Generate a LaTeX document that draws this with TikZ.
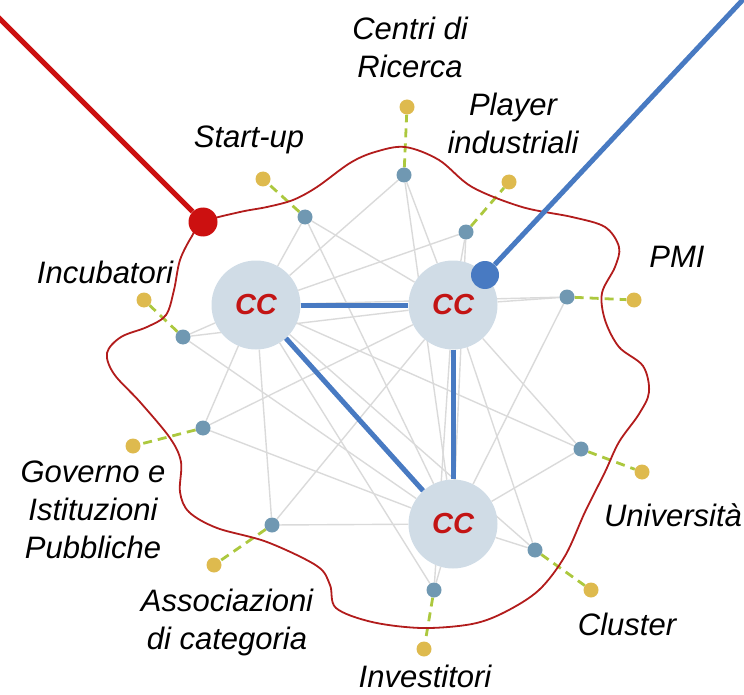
\documentclass[tikz,border=0pt]{standalone}
\usepackage{fontspec}
\setmainfont{Liberation Sans}
\usepackage{tikz}
\usetikzlibrary{backgrounds}
\definecolor{ccfill}{RGB}{208,220,230}
\definecolor{ccred}{RGB}{195,20,20}
\definecolor{actorblue}{RGB}{112,152,178}
\definecolor{extyellow}{RGB}{222,186,78}
\definecolor{tiegreen}{RGB}{172,200,62}
\definecolor{linkgray}{RGB}{218,218,218}
\definecolor{hubblue}{RGB}{72,122,194}
\definecolor{borderred}{RGB}{178,28,28}
\definecolor{entryred}{RGB}{204,16,16}

\begin{document}
\begin{tikzpicture}[x=1pt,y=-1pt,
    hubnode/.style={circle,fill=ccfill,minimum size=89pt,inner sep=0pt,text=ccred,font=\fontsize{29}{29}\selectfont\bfseries\itshape},
    actornode/.style={circle,fill=actorblue,minimum size=15pt,inner sep=0pt},
    extnode/.style={circle,fill=extyellow,minimum size=15pt,inner sep=0pt},
    linkline/.style={linkgray,line width=1.4pt},
    tieline/.style={tiegreen,line width=2.8pt,dash pattern=on 9pt off 6pt},
    hubline/.style={hubblue,line width=5pt},
    labeltext/.style={font=\fontsize{31}{38}\selectfont\itshape,align=center,inner sep=0pt}]
  \useasboundingbox (0,0) rectangle (744,695);
  % Centri di competenza
  \node[hubnode] (cc1) at (256,305) {CC};
  \node[hubnode] (cc2) at (453,305) {CC};
  \node[hubnode] (cc3) at (453,524) {CC};
  % Attori dell'ecosistema
  \node[actornode] (sta) at (305,217) {};
  \node[actornode] (cen) at (404,175) {};
  \node[actornode] (pla) at (466,232) {};
  \node[actornode] (pmi) at (567,297) {};
  \node[actornode] (uni) at (581,449) {};
  \node[actornode] (clu) at (535,550) {};
  \node[actornode] (inv) at (434,590) {};
  \node[actornode] (ass) at (272,525) {};
  \node[actornode] (gov) at (203,428) {};
  \node[actornode] (inc) at (183,337) {};
  % Attori esterni
  \node[extnode] (staExt) at (263,179) {};
  \node[extnode] (cenExt) at (407,107) {};
  \node[extnode] (plaExt) at (509,182) {};
  \node[extnode] (pmiExt) at (634,300) {};
  \node[extnode] (uniExt) at (642,472) {};
  \node[extnode] (cluExt) at (591,590) {};
  \node[extnode] (invExt) at (424,649) {};
  \node[extnode] (assExt) at (214,565) {};
  \node[extnode] (govExt) at (133,446) {};
  \node[extnode] (incExt) at (144,300) {};
  % Rete di relazioni
  \begin{scope}[on background layer]
    \draw[linkline] (sta) -- (cc1); \draw[linkline] (sta) -- (cc2); \draw[linkline] (sta) -- (cc3);
    \draw[linkline] (cen) -- (cc1); \draw[linkline] (cen) -- (cc2); \draw[linkline] (cen) -- (cc3);
    \draw[linkline] (pla) -- (cc1); \draw[linkline] (pla) -- (cc2); \draw[linkline] (pla) -- (cc3);
    \draw[linkline] (pmi) -- (cc1); \draw[linkline] (pmi) -- (cc2); \draw[linkline] (pmi) -- (cc3);
    \draw[linkline] (uni) -- (cc1); \draw[linkline] (uni) -- (cc2); \draw[linkline] (uni) -- (cc3);
    \draw[linkline] (clu) -- (cc1); \draw[linkline] (clu) -- (cc2); \draw[linkline] (clu) -- (cc3);
    \draw[linkline] (inv) -- (cc1); \draw[linkline] (inv) -- (cc2); \draw[linkline] (inv) -- (cc3);
    \draw[linkline] (ass) -- (cc1); \draw[linkline] (ass) -- (cc2); \draw[linkline] (ass) -- (cc3);
    \draw[linkline] (gov) -- (cc1); \draw[linkline] (gov) -- (cc2); \draw[linkline] (gov) -- (cc3);
    \draw[linkline] (inc) -- (cc1); \draw[linkline] (inc) -- (cc2); \draw[linkline] (inc) -- (cc3);
    % Collegamenti verso l'esterno
    \draw[tieline] (sta) -- (staExt);
    \draw[tieline] (cen) -- (cenExt);
    \draw[tieline] (pla) -- (plaExt);
    \draw[tieline] (pmi) -- (pmiExt);
    \draw[tieline] (uni) -- (uniExt);
    \draw[tieline] (clu) -- (cluExt);
    \draw[tieline] (inv) -- (invExt);
    \draw[tieline] (ass) -- (assExt);
    \draw[tieline] (gov) -- (govExt);
    \draw[tieline] (inc) -- (incExt);
  \end{scope}
  % Confine dell'ecosistema
  \draw[borderred,line width=1.8pt] plot[smooth cycle,tension=0.55] coordinates {
    (203,222) (240,212) (267,207) (293,200) (317,187) (350,163) (375,152)
    (405,147) (439,160) (472,187) (522,207) (572,217) (605,227) (619,247)
    (615,267) (602,293) (605,320) (619,347) (643,366) (649,392) (639,414)
    (619,442) (605,472) (585,512) (565,556) (539,590) (505,612) (472,624)
    (422,628) (372,622) (336,608) (330,585) (317,566) (267,542) (217,528)
    (189,512) (180,492) (181,462) (170,438) (140,402) (114,374) (107,353)
    (121,337) (147,327) (166,315) (174,290) (180,260) (192,236)};
  % Legami forti tra i centri
  \draw[hubline] (cc1) -- (cc2);
  \draw[hubline] (cc1) -- (cc3);
  \draw[hubline] (cc2) -- (cc3);
  % Punti di accesso
  \node[circle,fill=entryred,minimum size=29pt,inner sep=0pt] (rdot) at (203,222) {};
  \node[circle,fill=hubblue,minimum size=28pt,inner sep=0pt] (bdot) at (485,275) {};
  \coordinate (rend) at (-10,9);
  \coordinate (bend) at (752,-10);
  \draw[entryred,line width=5pt] (rdot) -- (rend);
  \draw[hubline] (bdot) -- (bend);
  % Etichette
  \node[labeltext] (cenLab) at (410,47) {Centri di\\Ricerca};
  \node[labeltext] (staLab) at (249,140) {Start-up};
  \node[labeltext] (plaLab) at (513,123) {Player\\industriali};
  \node[labeltext] (incLab) at (105,272) {Incubatori};
  \node[labeltext] (pmiLab) at (677,257) {PMI};
  \node[labeltext] (govLab) at (93,510) {Governo e\\Istituzioni\\Pubbliche};
  \node[labeltext] (assLab) at (227,622) {Associazioni\\di categoria};
  \node[labeltext] (invLab) at (425,676) {Investitori};
  \node[labeltext] (cluLab) at (627,624) {Cluster};
  \node[labeltext] (uniLab) at (673,515) {Università};
\end{tikzpicture}
\end{document}
